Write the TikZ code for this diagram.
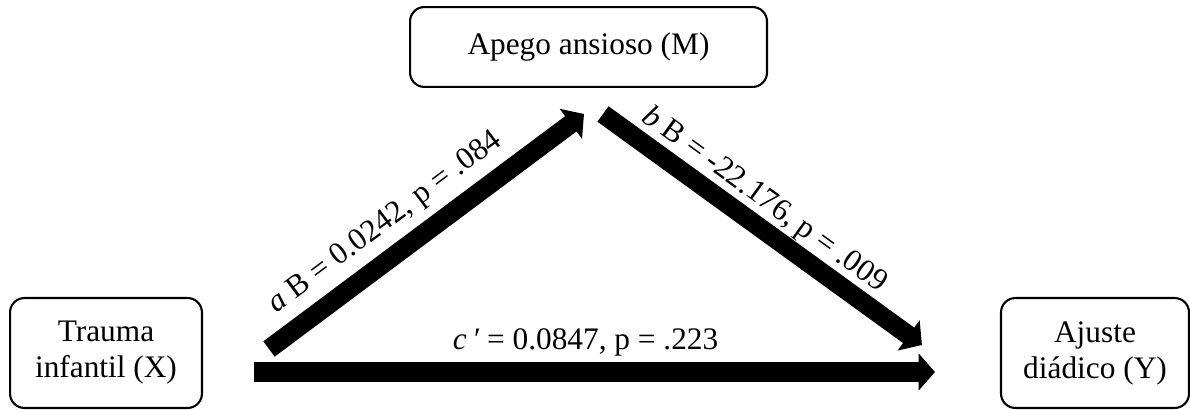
\documentclass[tikz,border=0pt]{standalone}
\usepackage{fontspec}
\setmainfont{Liberation Serif}
\usepackage{tikz}
\usetikzlibrary{arrows.meta,positioning,calc}
\tikzset{
  blk/.style={draw, line width=0.8pt, rounded corners=5.5pt, align=center, inner sep=2pt},
  arr/.style={line width=7.3pt, -{Triangle[length=6.3pt, width=14pt]}},
  lbl/.style={sloped, inner sep=0pt},
}

\begin{document}
\begin{tikzpicture}[x=0.383pt, y=-0.383pt, font=\fontsize{12}{13.8}\selectfont]
\useasboundingbox (0,0) rectangle (1190,410);
\node[blk, minimum width=136.7pt, minimum height=30.6pt] (m) at (588.5,47) {Apego ansioso (M)};
\node[blk, minimum width=73.5pt, minimum height=42.1pt] (x) at (106,353) {Trauma\\infantil (X)};
\node[blk, minimum width=72pt, minimum height=42.1pt] (y) at (1095,353) {Ajuste\\diádico (Y)};
\draw[arr] ([shift={(66,52)}]x.north east)--node[lbl, pos=.43, yshift=12pt]{\textit{a} B = 0.0242, p = .084}([shift={(-4.5,26)}]m.south);
\draw[arr] ([shift={(14.5,26)}]m.south)--node[lbl, pos=.46, yshift=9.5pt]{\textit{b} B = -22.176, p = .009}([shift={(-78,48)}]y.north west);
\draw[arr] ([shift={(51,19)}]x.east)--node[lbl, pos=.487, yshift=11.5pt]{\textit{c\,′} = 0.0847, p = .223}([shift={(-65,19)}]y.west);
\end{tikzpicture}
\end{document}
